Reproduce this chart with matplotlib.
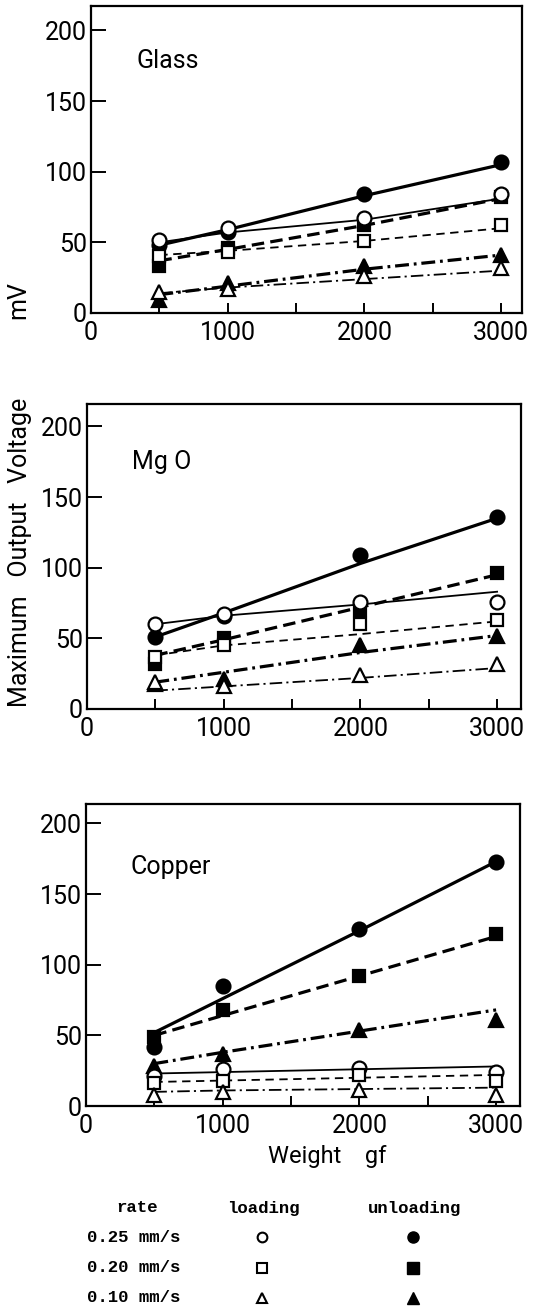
import matplotlib
matplotlib.use("Agg")
import matplotlib.pyplot as plt

plt.rcParams['font.family'] = ['Roboto', 'DejaVu Sans']
plt.rcParams['lines.scale_dashes'] = False

# x positions (weight, gf)
weights = [500, 1000, 2000, 3000]

# series order: loading 0.25, unloading 0.25, loading 0.20, unloading 0.20, loading 0.10, unloading 0.10
rates = ['0.25', '0.20', '0.10']

# measured points (mV)
glass_pts = [
    [52, 60, 67, 84],
    [48, 57, 84, 107],
    [40, 43, 51, 62],
    [33, 46, 62, 82],
    [15, 17, 26, 32],
    [9, 21, 33, 41],
]
# drawn lines (mV at each weight)
glass_lines = [
    [50, 57, 66, 81],
    [48, 59, 83, 105],
    [41, 44, 51, 60],
    [37, 45, 62, 81],
    [14, 18, 24, 30],
    [13, 19, 31, 41],
]

mgo_pts = [
    [60, 67, 76, 76],
    [51, 66, 109, 136],
    [37, 45, 60, 63],
    [32, 50, 70, 96],
    [19, 16, 24, 32],
    [18, 21, 45, 52],
]
mgo_lines = [
    [60, 66, 74, 83],
    [51, 68, 103, 135],
    [38, 45, 53, 62],
    [38, 49, 72, 95],
    [13, 16, 22, 29],
    [19, 26, 40, 52],
]

copper_pts = [
    [21, 26, 27, 24],
    [42, 85, 125, 173],
    [16, 18, 22, 18],
    [49, 68, 92, 122],
    [8, 10, 11, 8],
    [28, 37, 54, 61],
]
copper_lines = [
    [23, 24, 26, 28],
    [52, 76, 124, 173],
    [17, 18, 20, 22],
    [50, 64, 92, 120],
    [10, 11, 12, 13],
    [30, 38, 53, 68],
]

panels = [
    ('Glass', glass_pts, glass_lines, [91, 6, 522, 313], (0.105, 0.82)),
    ('Mg O', mgo_pts, mgo_lines, [87, 404, 521, 709], (0.104, 0.81)),
    ('Copper', copper_pts, copper_lines, [86, 804, 520, 1106], (0.102, 0.79)),
]

markers = ['o', 'o', 's', 's', '^', '^']
filled = [False, True, False, True, False, True]
widths = [1.3, 2.3, 1.3, 2.3, 1.3, 2.3]
dashes = [None, None, (6, 4), (9, 4.5), (9, 3, 1.5, 3), (10, 3.5, 2, 3.5)]
msizes = [10, 10, 9, 9, 10, 10]

W, H = 548, 1308
fig = plt.figure(figsize=(W / 100, H / 100), dpi=100)

for name, pts, lines, box, lab in panels:
    l, t, r, b = box
    ax = fig.add_axes([l / W, 1 - b / H, (r - l) / W, (b - t) / H])
    ax.set_xlim(0, (r - l) / 0.1367)
    ax.set_ylim(0, (b - t) / 1.413)

    for i in range(6):
        ln, = ax.plot(weights, lines[i], color='black', lw=widths[i], zorder=2)
        if dashes[i] is not None:
            ln.set_dashes(dashes[i])
    # filled markers first, open markers on top
    for i in [1, 3, 5, 0, 2, 4]:
        ax.plot(weights, pts[i], linestyle='none', marker=markers[i], ms=msizes[i],
                mfc='black' if filled[i] else 'white', mec='black', mew=1.6, zorder=3)

    ax.text(lab[0], lab[1], name, transform=ax.transAxes, fontsize=18, va='center', ha='left')

    ax.set_xticks([0, 1000, 2000, 3000])
    ax.set_xticks([500, 1500, 2500], minor=True)
    ax.set_yticks([0, 50, 100, 150, 200])
    ax.tick_params(axis='x', which='both', direction='in', length=7.5, width=1.4,
                   labelsize=18, pad=6)
    ax.tick_params(axis='y', direction='in', length=11, width=1.4, labelsize=18, pad=3)
    for s in ax.spines.values():
        s.set_linewidth(1.6)

fig.text(18 / W, 1 - 300 / H, 'mV', rotation=90, fontsize=18, ha='center', va='center')
fig.text(20 / W, 1 - 552 / H, 'Maximum   Output   Voltage', rotation=90, fontsize=18,
         ha='center', va='center')
fig.text(327 / W, 1 - 1157 / H, 'Weight    gf', fontsize=17, ha='center', va='center')

# legend table
lg = fig.add_axes([0, 0, 1, 140 / H])
lg.set_xlim(0, W)
lg.set_ylim(H, H - 140)
lg.axis('off')
mono = dict(family='Liberation Mono', weight='bold', fontsize=12.5, va='center')
lg.text(137, 1208, 'rate', ha='center', **mono)
lg.text(263, 1208, 'loading', ha='center', **mono)
lg.text(415, 1208, 'unloading', ha='center', **mono)
for j, rt in enumerate(rates):
    y = 1237 + j * 30.5
    lg.text(87, y, rt + ' mm/s', ha='left', **mono)
    lg.plot([262], [y], marker=markers[2 * j], ms=7, mfc='white', mec='black', mew=1.5)
    lg.plot([413], [y], marker=markers[2 * j + 1], ms=8, mfc='black', mec='black')

fig.savefig('out.png', dpi=100)
